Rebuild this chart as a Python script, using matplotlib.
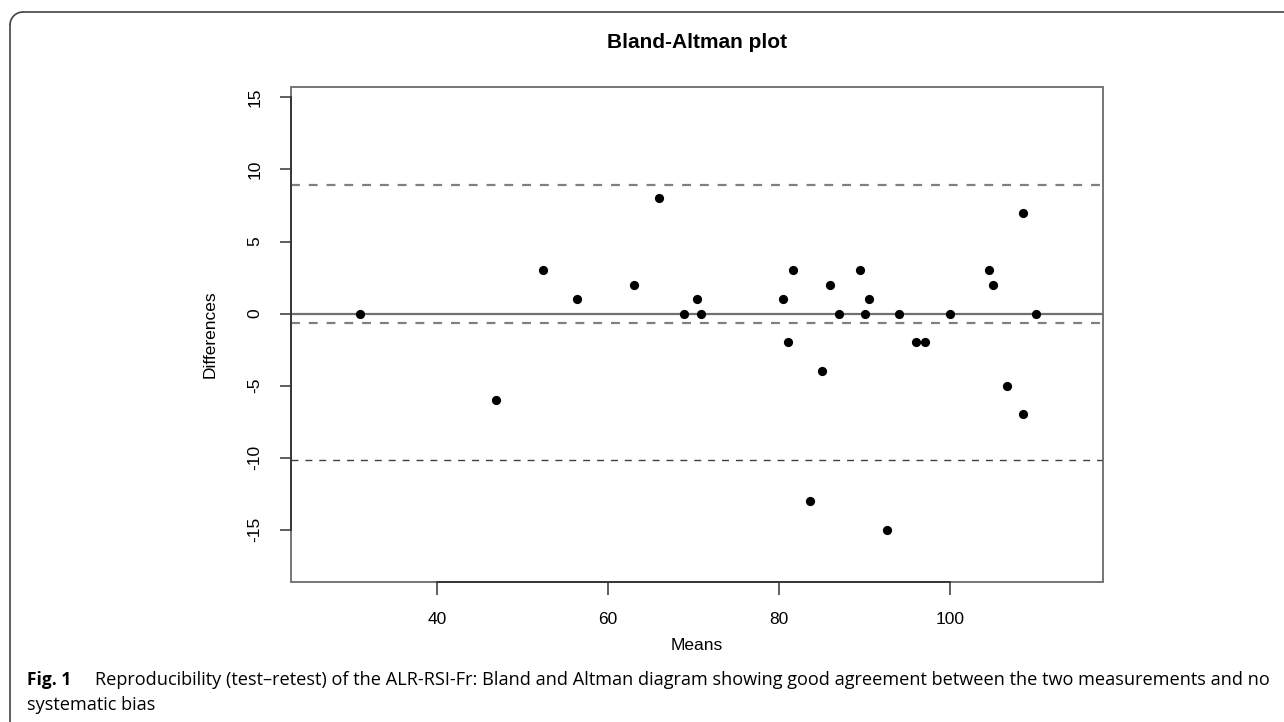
import matplotlib
matplotlib.use("agg")

import matplotlib.pyplot as plt
import numpy as np
from matplotlib.patches import Rectangle, Arc
from matplotlib.lines import Line2D

plt.rcParams["axes.unicode_minus"] = False

means = [31.0, 46.9, 52.4, 56.4, 63.0, 66.0, 68.9, 70.4, 70.9, 80.5,
         81.0, 81.6, 83.6, 85.0, 86.0, 87.0, 89.4, 90.0, 90.5, 92.6,
         94.0, 96.0, 97.0, 100.0, 104.5, 105.0, 106.6, 108.5, 108.5, 110.0]
diffs = [0, -6, 3, 1, 2, 8, 0, 1, 0, 1,
         -2, 3, -13, -4, 2, 0, 3, 0, 1, -15,
         0, -2, -2, 0, 3, 2, -5, 7, -7, 0]
xticks = [40, 60, 80, 100]
yticks = [-15, -10, -5, 0, 5, 10, 15]

caption_bold = "Fig. 1"
caption_text = ("Reproducibility (test\u2013retest) of the ALR-RSI-Fr: Bland and Altman "
                "diagram showing good agreement between the two measurements and no")
caption_line2 = "systematic bias"

# Mean difference and limits of agreement.
d = np.array(diffs, dtype=float)
bias = d.mean()
sd = d.std(ddof=1)
upper = bias + 1.96 * sd
lower = bias - 1.96 * sd

W, H = 1284, 722
fig = plt.figure(figsize=(W / 100, H / 100), dpi=100)


def fx(px):
    return px / W


def fy(py):
    return 1 - py / H


ax = fig.add_axes([fx(291.3), fy(581.7), fx(1103.3) - fx(291.3), fy(87.3) - fy(581.7)])
ax.set_xlim(22.96, 117.9)
ax.set_ylim(-18.6, 15.7)

ax.axhline(0, color="#707070", lw=1.6, zorder=1)
ax.axhline(upper, color="#808080", lw=1.6, ls=(0, (4, 4)), zorder=1)
ax.axhline(bias, color="#808080", lw=1.6, ls=(0, (4, 4)), zorder=1)
ax.axhline(lower, color="#404040", lw=1.0, ls=(0, (5, 5)), zorder=1)

ax.scatter(means, diffs, s=44, color="black", zorder=3, linewidths=0)

# R-style box plus axes that only run between the outer ticks
for s in ax.spines.values():
    s.set_visible(False)
ax.add_patch(Rectangle((0, 0), 1, 1, transform=ax.transAxes, fill=False,
                       edgecolor="#6a6a6a", lw=1.3, clip_on=False, zorder=2))
ax.spines["left"].set_visible(True)
ax.spines["bottom"].set_visible(True)
ax.spines["left"].set_bounds(min(yticks), max(yticks))
ax.spines["bottom"].set_bounds(min(xticks), max(xticks))
for k in ("left", "bottom"):
    ax.spines[k].set_color("#333333")
    ax.spines[k].set_linewidth(1.3)
    ax.spines[k].set_zorder(4)

font = "Liberation Sans"
ax.set_xticks(xticks)
ax.set_yticks(yticks)
ax.tick_params(axis="x", direction="out", length=9.5, width=1.1, color="#333333",
               pad=12, labelsize=12.5)
ax.tick_params(axis="y", direction="out", length=8, width=1.1, color="#333333",
               pad=13, labelsize=12.5)
for lab in ax.get_xticklabels() + ax.get_yticklabels():
    lab.set_family(font)
for lab in ax.get_yticklabels():
    lab.set_rotation(90)
    lab.set_va("center")

fig.text(fx(697), fy(42), "Bland-Altman plot", family=font, fontweight="bold",
         fontsize=15, ha="center", va="center")
fig.text(fx(697), fy(646), "Means", family=font, fontsize=12.5, ha="center", va="center")
fig.text(fx(210), fy(334), "Differences", family=font, fontsize=12.5,
         rotation=90, ha="center", va="center")

# Caption
cfont = "Open Sans"
fig.text(fx(27), fy(685), caption_bold, family=cfont, fontweight="bold",
         fontsize=12.5, ha="left", va="baseline")
fig.text(fx(95), fy(685), caption_text, family=cfont, fontsize=13.1,
         ha="left", va="baseline")
fig.text(fx(27), fy(710), caption_line2, family=cfont, fontsize=13.1,
         ha="left", va="baseline")

# Frame with a rounded top-left corner
r = 13
fc = "#444444"
fig.add_artist(Line2D([fx(10), fx(10)], [fy(H), fy(12 + r)], color=fc, lw=1.2))
fig.add_artist(Line2D([fx(10 + r), fx(W)], [fy(12), fy(12)], color=fc, lw=1.2))
fig.add_artist(Arc((fx(10 + r), fy(12 + r)), 2 * r / W, 2 * r / H, theta1=90, theta2=180,
                   transform=fig.transFigure, color=fc, lw=1.2))

fig.savefig("out.png", dpi=100)
